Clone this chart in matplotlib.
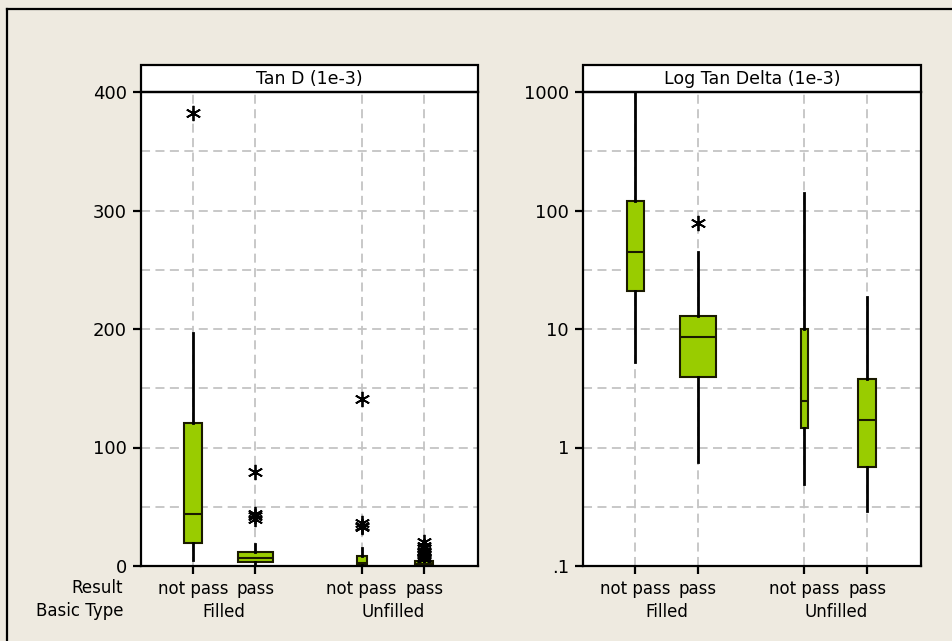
import numpy as np
import matplotlib.pyplot as plt
from matplotlib.patches import Rectangle
from matplotlib.lines import Line2D

plt.rcParams['font.family'] = ['DejaVu Sans']

results = ['not pass', 'pass', 'not pass', 'pass']
basic_types = ['Filled', 'Unfilled']

# Tan D (1e-3), linear scale: whislo, q1, med, q3, whishi
tan_whislo = [5, 0.5, 0.2, 0.1]
tan_q1 = [19.7, 3.6, 0.8, 0.3]
tan_med = [43.6, 7.0, 2.5, 1.5]
tan_q3 = [120.4, 12.0, 8.7, 4.2]
tan_whishi = [196.6, 18.6, 15.5, 5.0]
tan_fliers = [[382], [79, 44, 42, 40], [141, 36, 34, 33],
              [20, 17, 15, 13, 12, 10, 9, 8, 7, 6]]
tan_widths = [0.28, 0.56, 0.16, 0.28]

# Log Tan Delta (1e-3), log scale
log_whislo = [5.3, 0.75, 0.49, 0.293]
log_q1 = [20.8, 3.96, 1.47, 0.684]
log_med = [44.4, 8.55, 2.47, 1.71]
log_q3 = [119.6, 12.9, 9.94, 3.81]
log_whishi = [990, 44.9, 139.7, 18.5]
log_fliers = [[], [78], [], []]
log_widths = [0.27, 0.58, 0.12, 0.28]

positions = [1, 2, 3.7, 4.7]
bg = '#EEEAE0'
box_green = '#99CC00'


def make_stats(lo, q1, med, q3, hi, fl):
    return [dict(whislo=lo[i], q1=q1[i], med=med[i], q3=q3[i],
                 whishi=hi[i], fliers=fl[i]) for i in range(len(med))]


def draw_panel(ax, stats, widths, title):
    ax.set_facecolor('white')
    ax.bxp(stats, positions=positions, widths=widths, patch_artist=True,
           showcaps=False, manage_ticks=False,
           boxprops=dict(facecolor=box_green, edgecolor='#1a1a00', linewidth=1.5),
           medianprops=dict(color='#1a1a00', linewidth=1.5),
           whiskerprops=dict(color='black', linewidth=2),
           flierprops=dict(marker=(6, 2, 0), markersize=11, markeredgewidth=1.3,
                           markeredgecolor='black', linestyle='none'))
    ax.set_xlim(0.17, 5.56)
    ax.set_xticks(positions)
    ax.set_xticklabels(results)
    ax.grid(True, which='both', color='#c4c4c4', linestyle=(0, (5, 3)), linewidth=1.3)
    ax.set_axisbelow(True)
    for s in ax.spines.values():
        s.set_linewidth(1.6)
    ax.tick_params(axis='both', length=6, width=1.6, labelsize=12, pad=4)
    ax.tick_params(axis='y', labelsize=13)
    # group labels under the result labels
    ax.annotate(basic_types[0], xy=((positions[0] + positions[1]) / 2, 0),
                xycoords=('data', 'axes fraction'), xytext=(0, -26.5),
                textcoords='offset points', ha='center', va='top', fontsize=12)
    ax.annotate(basic_types[1], xy=((positions[2] + positions[3]) / 2, 0),
                xycoords=('data', 'axes fraction'), xytext=(0, -26.5),
                textcoords='offset points', ha='center', va='top', fontsize=12)
    # title strip above the panel
    strip_h = 27 / 474
    ax.add_patch(Rectangle((0, 1), 1, strip_h, transform=ax.transAxes,
                           facecolor='white', edgecolor='black', linewidth=1.6,
                           clip_on=False))
    ax.text(0.5, 1 + strip_h / 2, title, transform=ax.transAxes,
            ha='center', va='center', fontsize=12.5)


fig = plt.figure(figsize=(9.52, 6.41), dpi=100, facecolor=bg)

ax1 = fig.add_axes([141 / 952, 1 - 566 / 641, 337 / 952, 474 / 641])
draw_panel(ax1, make_stats(tan_whislo, tan_q1, tan_med, tan_q3, tan_whishi, tan_fliers),
           tan_widths, 'Tan D (1e-3)')
ax1.set_ylim(0, 400)
ax1.set_yticks([0, 100, 200, 300, 400])
ax1.set_yticks(np.arange(50, 400, 100), minor=True)
ax1.tick_params(axis='y', which='minor', length=0)

ax2 = fig.add_axes([583 / 952, 1 - 566 / 641, 338 / 952, 474 / 641])
draw_panel(ax2, make_stats(log_whislo, log_q1, log_med, log_q3, log_whishi, log_fliers),
           log_widths, 'Log Tan Delta (1e-3)')
ax2.set_yscale('log')
ax2.set_ylim(0.1, 1000)
ax2.set_yticks([0.1, 1, 10, 100, 1000])
ax2.set_yticklabels(['.1', '1', '10', '100', '1000'])
ax2.set_yticks([10 ** (k + 0.5) for k in range(-1, 3)], minor=True)
ax2.set_yticklabels([], minor=True)
ax2.tick_params(axis='y', which='minor', length=0)

# row captions on the left
fig.text(123 / 952, 1 - 588 / 641, 'Result', ha='right', va='center', fontsize=12)
fig.text(123 / 952, 1 - 611 / 641, 'Basic Type', ha='right', va='center', fontsize=12)

# outer frame (top and left edges)
fig.add_artist(Line2D([7 / 952, 1], [1 - 9 / 641, 1 - 9 / 641], color='black', linewidth=1.6))
fig.add_artist(Line2D([7 / 952, 7 / 952], [0, 1 - 9 / 641], color='black', linewidth=1.6))

fig.savefig('out.png', dpi=100, facecolor=bg)
